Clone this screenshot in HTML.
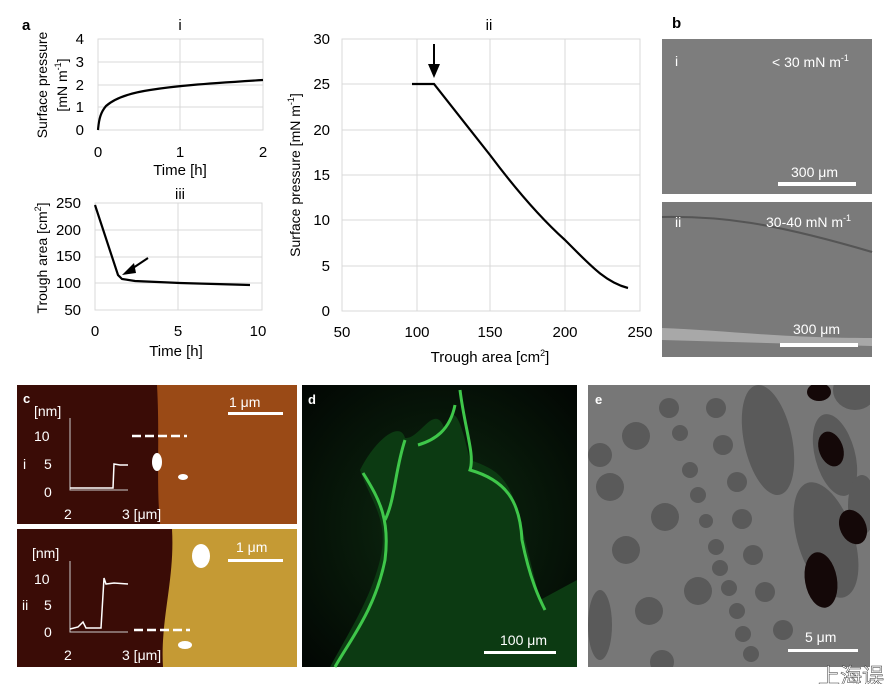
<!DOCTYPE html>
<html><head><meta charset="utf-8"><style>
html,body{margin:0;padding:0;background:#fff;width:890px;height:684px;overflow:hidden}
svg{display:block;font-family:"Liberation Sans",sans-serif}
</style></head><body>
<svg width="890" height="684" viewBox="0 0 890 684" xmlns="http://www.w3.org/2000/svg">
<defs>
<radialGradient id="gd" cx="0.5" cy="0.5" r="0.7"><stop offset="0" stop-color="#0d2a10"/><stop offset="1" stop-color="#020603"/></radialGradient>
<clipPath id="ce"><rect x="588" y="385" width="282" height="282"/></clipPath>
</defs>
<rect width="890" height="684" fill="#fff"/>
<text x="22" y="30" font-size="15" font-weight="bold">a</text>
<text x="672" y="28" font-size="15" font-weight="bold">b</text>
<!-- Plot i -->
<g stroke="#d9d9d9" stroke-width="1" fill="none">
<rect x="98" y="39" width="165" height="91"/>
<line x1="98" y1="62" x2="263" y2="62"/><line x1="98" y1="85" x2="263" y2="85"/><line x1="98" y1="107" x2="263" y2="107"/>
<line x1="180" y1="39" x2="180" y2="130"/>
</g>
<text x="180" y="30" font-size="15" text-anchor="middle">i</text>
<g font-size="15" text-anchor="end"><text x="84" y="44">4</text><text x="84" y="67">3</text><text x="84" y="90">2</text><text x="84" y="112">1</text><text x="84" y="135">0</text></g>
<g font-size="15" text-anchor="middle"><text x="98" y="157">0</text><text x="180" y="157">1</text><text x="263" y="157">2</text><text x="180" y="175">Time [h]</text></g>
<text transform="translate(47,85) rotate(-90)" font-size="14" text-anchor="middle">Surface pressure</text>
<text transform="translate(67,85) rotate(-90)" font-size="14" text-anchor="middle">[mN m<tspan font-size="9" dy="-6">-1</tspan><tspan dy="6">]</tspan></text>
<path d="M98,130 C99,118 101,112 106,106 C115,98 130,93 150,90 C175,86 200,84 263,80" stroke="#000" stroke-width="2.2" fill="none"/>
<!-- Plot iii -->
<g stroke="#d9d9d9" stroke-width="1" fill="none">
<rect x="95" y="203" width="167" height="107"/>
<line x1="95" y1="230" x2="262" y2="230"/><line x1="95" y1="257" x2="262" y2="257"/><line x1="95" y1="283" x2="262" y2="283"/>
<line x1="178" y1="203" x2="178" y2="310"/>
</g>
<text x="180" y="199" font-size="15" text-anchor="middle">iii</text>
<g font-size="15" text-anchor="end"><text x="81" y="208">250</text><text x="81" y="235">200</text><text x="81" y="261">150</text><text x="81" y="288">100</text><text x="81" y="315">50</text></g>
<g font-size="15" text-anchor="middle"><text x="95" y="336">0</text><text x="178" y="336">5</text><text x="258" y="336">10</text><text x="176" y="356">Time [h]</text></g>
<text transform="translate(47,258) rotate(-90)" font-size="14" text-anchor="middle">Trough area [cm<tspan font-size="9" dy="-6">2</tspan><tspan dy="6">]</tspan></text>
<path d="M95,205 L118,275 L122,279 L135,281 L180,283 L250,285" stroke="#000" stroke-width="2.2" fill="none"/>
<line x1="148" y1="258" x2="130" y2="270" stroke="#000" stroke-width="2"/>
<polygon points="122,275 134,263 136,273" fill="#000"/>
<!-- Plot ii -->
<g stroke="#d9d9d9" stroke-width="1" fill="none">
<rect x="342" y="39" width="298" height="272"/>
<line x1="342" y1="84" x2="640" y2="84"/><line x1="342" y1="130" x2="640" y2="130"/><line x1="342" y1="175" x2="640" y2="175"/><line x1="342" y1="220" x2="640" y2="220"/><line x1="342" y1="266" x2="640" y2="266"/>
<line x1="417" y1="39" x2="417" y2="311"/><line x1="490" y1="39" x2="490" y2="311"/><line x1="565" y1="39" x2="565" y2="311"/>
</g>
<text x="489" y="30" font-size="15" text-anchor="middle">ii</text>
<g font-size="15" text-anchor="end"><text x="330" y="44">30</text><text x="330" y="89">25</text><text x="330" y="135">20</text><text x="330" y="180">15</text><text x="330" y="225">10</text><text x="330" y="271">5</text><text x="330" y="316">0</text></g>
<g font-size="15" text-anchor="middle"><text x="342" y="337">50</text><text x="417" y="337">100</text><text x="490" y="337">150</text><text x="565" y="337">200</text><text x="640" y="337">250</text><text x="490" y="362">Trough area [cm<tspan font-size="9" dy="-6">2</tspan><tspan dy="6">]</tspan></text></g>
<text transform="translate(300,175) rotate(-90)" font-size="14" text-anchor="middle">Surface pressure [mN m<tspan font-size="9" dy="-6">-1</tspan><tspan dy="6">]</tspan></text>
<path d="M412,84 L434,84 L490,155 C520,195 545,222 565,240 C590,265 605,282 628,288" stroke="#000" stroke-width="2.2" fill="none"/>
<line x1="434" y1="44" x2="434" y2="68" stroke="#000" stroke-width="2"/>
<polygon points="428,64 440,64 434,78" fill="#000"/>
<!-- Panel b -->
<rect x="662" y="39" width="210" height="155" fill="#7d7d7d"/>
<rect x="662" y="202" width="210" height="155" fill="#7a7a7a"/>
<path d="M662,217 C720,216 770,222 872,252" stroke="#555" stroke-width="2" fill="none"/>
<path d="M662,328 C720,330 780,338 872,338 L872,346 L662,340Z" fill="#a8a8a8"/>
<g fill="#fff" font-size="14">
<text x="675" y="66">i</text><text x="772" y="67">&lt; 30 mN m<tspan font-size="9" dy="-6">-1</tspan></text>
<text x="791" y="177">300 μm</text>
<text x="675" y="227">ii</text><text x="766" y="227">30-40 mN m<tspan font-size="9" dy="-6">-1</tspan></text>
<text x="793" y="334">300 μm</text>
</g>
<rect x="778" y="182" width="78" height="4" fill="#fff"/>
<rect x="780" y="343" width="78" height="4" fill="#fff"/>
<!-- Panel c -->
<rect x="17" y="385" width="280" height="139" fill="#3a0c06"/>
<path d="M157,385 L297,385 L297,524 L160,524 C156,480 160,440 157,385Z" fill="#9a4a16"/>
<rect x="17" y="529" width="280" height="138" fill="#3a0c06"/>
<path d="M172,529 L297,529 L297,667 L163,667 C160,620 175,580 172,529Z" fill="#c59a34"/>
<g fill="#fff">
<rect x="228" y="412" width="55" height="3"/><rect x="228" y="559" width="55" height="3"/>
<ellipse cx="157" cy="462" rx="5" ry="9"/><ellipse cx="183" cy="477" rx="5" ry="3"/><ellipse cx="201" cy="556" rx="9" ry="12"/><ellipse cx="185" cy="645" rx="7" ry="4"/>
</g>
<g stroke="#fff" stroke-width="2.5" stroke-dasharray="9,4"><line x1="132" y1="436" x2="187" y2="436"/><line x1="134" y1="630" x2="190" y2="630"/></g>
<g fill="#fff" font-size="14">
<text x="23" y="403" font-weight="bold" font-size="13">c</text>
<text x="229" y="407">1 μm</text><text x="236" y="552">1 μm</text>
<text x="34" y="416">[nm]</text><text x="34" y="441">10</text><text x="44" y="469">5</text><text x="44" y="497">0</text><text x="23" y="469">i</text>
<text x="64" y="519">2</text><text x="122" y="519">3 [μm]</text>
<text x="32" y="558">[nm]</text><text x="34" y="584">10</text><text x="44" y="610">5</text><text x="44" y="637">0</text><text x="22" y="610">ii</text>
<text x="64" y="660">2</text><text x="122" y="660">3 [μm]</text>
</g>
<g stroke="#ccc" stroke-width="1" fill="none"><path d="M70,418 L70,490 L128,490"/><path d="M70,561 L70,632 L128,632"/></g>
<path d="M70,488 L113,488 L114,464 L120,465 L128,465" stroke="#fff" stroke-width="1.5" fill="none"/>
<path d="M70,629 L78,627 L83,622 L86,628 L101,628 L104,578 L106,584 L114,583 L128,584" stroke="#fff" stroke-width="1.5" fill="none"/>
<!-- Panel d -->
<rect x="302" y="385" width="275" height="282" fill="url(#gd)"/>
<path d="M360,470 C375,440 400,420 405,438 C420,440 435,400 445,430 C455,390 465,440 470,460 C500,470 510,480 520,520 L540,600 L577,580 L577,667 L330,667 C350,630 370,600 380,560 C390,520 370,500 360,470Z" fill="#0c3a12"/>
<g stroke="#3fc74a" stroke-width="3" fill="none">
<path d="M363,473 C380,500 390,520 385,560 C375,610 350,640 335,667"/>
<path d="M405,440 C395,470 395,500 385,520"/>
<path d="M460,390 C465,430 475,455 470,470 C505,480 520,500 522,540 C530,580 540,600 545,610"/>
<path d="M418,445 C435,440 450,430 455,405"/>
</g>
<rect x="484" y="651" width="72" height="3" fill="#fff"/>
<g fill="#fff"><text x="308" y="404" font-weight="bold" font-size="13">d</text><text x="500" y="645" font-size="14">100 μm</text></g>
<!-- Panel e -->
<g clip-path="url(#ce)">
<rect x="588" y="385" width="282" height="282" fill="#777"/>
<g fill="#5a5a5a">
<ellipse cx="768" cy="440" rx="24" ry="56" transform="rotate(-12 768 440)"/>
<ellipse cx="826" cy="540" rx="28" ry="60" transform="rotate(-18 826 540)"/>
<ellipse cx="835" cy="455" rx="20" ry="42" transform="rotate(-15 835 455)"/>
<ellipse cx="862" cy="505" rx="14" ry="30"/>
<ellipse cx="855" cy="390" rx="22" ry="20"/>
<circle cx="636" cy="436" r="14"/><circle cx="669" cy="408" r="10"/><circle cx="680" cy="433" r="8"/><circle cx="716" cy="408" r="10"/><circle cx="723" cy="445" r="10"/>
<circle cx="690" cy="470" r="8"/><circle cx="737" cy="482" r="10"/><circle cx="610" cy="487" r="14"/><circle cx="665" cy="517" r="14"/><circle cx="698" cy="495" r="8"/>
<circle cx="706" cy="521" r="7"/><circle cx="742" cy="519" r="10"/><circle cx="626" cy="550" r="14"/><circle cx="716" cy="547" r="8"/><circle cx="720" cy="568" r="8"/>
<circle cx="753" cy="555" r="10"/><circle cx="698" cy="591" r="14"/><circle cx="729" cy="588" r="8"/><circle cx="737" cy="611" r="8"/><circle cx="765" cy="592" r="10"/>
<circle cx="649" cy="611" r="14"/><circle cx="743" cy="634" r="8"/><circle cx="783" cy="630" r="10"/><circle cx="751" cy="654" r="8"/><circle cx="662" cy="662" r="12"/>
<circle cx="600" cy="455" r="12"/><ellipse cx="600" cy="625" rx="12" ry="35"/>
</g>
<g fill="#140808">
<ellipse cx="831" cy="449" rx="12" ry="18" transform="rotate(-20 831 449)"/>
<ellipse cx="853" cy="527" rx="13" ry="18" transform="rotate(-25 853 527)"/>
<ellipse cx="821" cy="580" rx="16" ry="28" transform="rotate(-10 821 580)"/>
<ellipse cx="819" cy="392" rx="12" ry="9"/>
</g>
</g>
<rect x="788" y="649" width="70" height="3" fill="#fff"/>
<g fill="#fff"><text x="595" y="404" font-weight="bold" font-size="13">e</text><text x="805" y="642" font-size="14">5 μm</text></g>
<text x="818" y="684" font-size="22" fill="#fff" stroke="#333" stroke-width="0.5" font-family="'Noto Sans CJK SC',sans-serif">上海误</text>
</svg>
</body></html>
